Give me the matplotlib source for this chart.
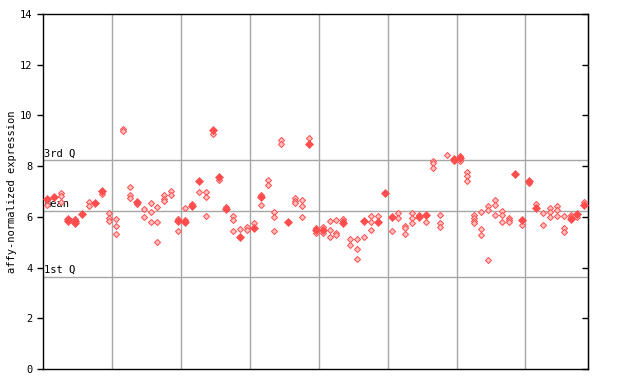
import matplotlib
matplotlib.use("Agg")
import matplotlib.pyplot as plt

# sample index and expression value, solid markers
filled_x = [0, 1, 3, 3, 4, 4, 5, 7, 8, 13, 19, 20, 21, 22, 24, 25, 26, 28, 30, 31,
            35, 38, 39, 40, 43, 46, 48, 49, 50, 54, 55, 59, 60, 68, 69, 70, 71, 76,
            77, 78]
filled_y = [6.70, 6.78, 5.91, 5.82, 5.82, 5.75, 6.12, 6.53, 7.02, 6.59, 5.82, 5.80,
            6.43, 7.42, 9.44, 7.57, 6.31, 5.19, 5.55, 6.78, 5.79, 8.89, 5.47, 5.47,
            5.75, 5.82, 5.79, 6.94, 5.98, 5.98, 6.06, 8.27, 8.31, 7.68, 5.88, 7.40,
            6.33, 5.90, 6.10, 6.45]

# sample index and expression value, checkered markers
hollow_x = [0, 2, 2, 2, 4, 6, 6, 8, 9, 9, 9, 10, 10, 10, 11, 11, 12, 12, 12, 13,
            14, 14, 15, 15, 15, 16, 16, 16, 17, 17, 17, 18, 18, 19, 19, 20, 20, 21,
            22, 23, 23, 23, 24, 25, 26, 27, 27, 27, 28, 29, 29, 30, 31, 31, 32, 32,
            33, 33, 33, 34, 34, 36, 36, 36, 37, 37, 37, 38, 39, 39, 40, 40, 41, 41,
            41, 42, 42, 42, 43, 43, 44, 44, 45, 45, 45, 46, 47, 47, 47, 48, 50, 51,
            51, 52, 52, 52, 53, 53, 53, 54, 55, 56, 56, 56, 57, 57, 57, 58, 59, 60,
            60, 61, 61, 61, 62, 62, 62, 62, 63, 63, 63, 64, 64, 64, 65, 65, 65, 66,
            66, 66, 67, 67, 67, 69, 70, 71, 72, 72, 73, 73, 73, 74, 74, 74, 75, 75,
            75, 76, 76, 77, 78]
hollow_y = [6.47, 6.93, 6.84, 6.58, 5.90, 6.59, 6.43, 6.90, 6.14, 5.94, 5.84, 5.90,
            5.63, 5.31, 9.45, 9.37, 7.17, 6.86, 6.74, 6.50, 6.31, 5.98, 6.55, 6.18,
            5.79, 6.38, 5.79, 5.00, 6.86, 6.70, 6.63, 7.02, 6.86, 5.92, 5.43, 6.34,
            5.88, 6.50, 6.98, 6.98, 6.78, 6.02, 9.26, 7.45, 6.38, 6.02, 5.86, 5.43,
            5.51, 5.59, 5.47, 5.75, 6.86, 6.47, 7.44, 7.24, 6.18, 5.98, 5.43, 9.02,
            8.86, 6.74, 6.63, 6.55, 6.66, 6.43, 5.98, 9.10, 5.55, 5.35, 5.59, 5.35,
            5.82, 5.47, 5.19, 5.86, 5.35, 5.27, 5.90, 5.82, 5.11, 4.88, 5.11, 4.72,
            4.33, 5.19, 6.02, 5.79, 5.47, 6.02, 5.43, 6.14, 5.94, 5.63, 5.55, 5.31,
            6.14, 5.94, 5.75, 6.06, 5.79, 8.19, 8.11, 7.92, 6.06, 5.75, 5.59, 8.43,
            8.19, 8.39, 8.19, 7.76, 7.60, 7.40, 6.06, 5.94, 5.82, 5.75, 6.18, 5.51,
            5.27, 6.41, 6.26, 4.29, 6.65, 6.47, 6.06, 6.22, 6.06, 5.79, 5.94, 5.86,
            5.79, 5.67, 7.32, 6.49, 6.14, 5.67, 6.33, 6.18, 5.98, 6.41, 6.26, 6.02,
            6.02, 5.55, 5.39, 6.06, 5.98, 5.98, 6.57]

q1, mean, q3 = 3.63, 6.23, 8.23
y_ticks = [0, 2, 4, 6, 8, 10, 12, 14]

fig = plt.figure(figsize=(6.4, 3.84), dpi=100)
ax = fig.add_axes([43/640, 1-369/384, 545/640, 355/384])

mono = "DejaVu Sans Mono"
grey = "#a6a6a6"
red = "#ff4d4d"

# vertical separators
for k in range(1, 8):
    ax.axvline(10*k - 0.55, color=grey, lw=1, zorder=1)
for v in (q1, mean, q3):
    ax.axhline(v, color=grey, lw=1, zorder=1)

ax.text(-0.45, q3 + 0.07, "3rd Q", family=mono, fontsize=7.5, va="bottom", ha="left")
ax.text(-0.45, mean + 0.07, "mean", family=mono, fontsize=7.5, va="bottom", ha="left")
ax.text(-0.45, q1 + 0.07, "1st Q", family=mono, fontsize=7.5, va="bottom", ha="left")

ax.plot(hollow_x, hollow_y, ls="none", marker="D", ms=3.1, mfc="#ffc0c0",
        mec=red, mew=0.7, zorder=3)
ax.plot(filled_x, filled_y, ls="none", marker="D", ms=3.6, mfc=red,
        mec=red, mew=0.5, zorder=4)

ax.set_xlim(-0.62, 78.53)
ax.set_ylim(0, 14)
ax.set_xticks([])
ax.set_yticks(y_ticks)
ax.set_yticklabels([str(t) for t in y_ticks], family=mono, fontsize=7.5)
ax.tick_params(axis="y", direction="out", length=4, width=1)
ax.set_ylabel("affy-normalized expression", family=mono, fontsize=7.5, labelpad=2)

right = ax.secondary_yaxis("right")
right.set_yticks(y_ticks)
right.tick_params(direction="in", length=4, width=1, labelright=False)

for s in ax.spines.values():
    s.set_linewidth(1)

fig.savefig("out.png", dpi=100)
